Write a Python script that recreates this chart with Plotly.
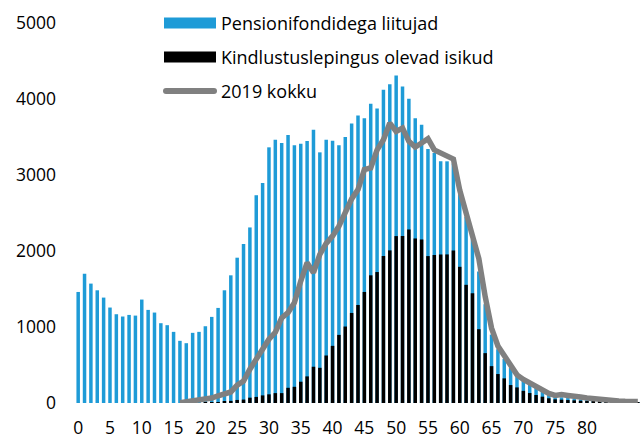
import plotly.graph_objects as go

ages = list(range(0, 89))

pension = [
    1461, 1702, 1571, 1483, 1387, 1256, 1168, 1138, 1159, 1150,
    1361, 1225, 1190, 1050, 1024, 936, 818, 787, 923, 936,
    1010, 1133, 1251, 1483, 1680, 1912, 2091, 2310, 2734, 2896,
    3364, 3465, 3421, 3526, 3390, 3412, 3447, 3596, 3298, 3465,
    3451, 3390, 3500, 3678, 3783, 3748, 3937, 3875, 4121, 4195,
    4308, 4164, 4003, 3748, 3661, 3342, 3290, 3180, 3180, 3150,
    2800, 2450, 2150, 1730, 1300, 900, 708, 580, 460, 390,
    305, 255, 205, 155, 115, 92, 75, 65, 57, 48,
    40, 30, 22, 15, 10, 7, 5, 3, 2,
]

insured = [
    0, 0, 0, 0, 0, 0, 0, 0, 0, 0,
    0, 0, 0, 0, 0, 0, 0, 0, 0, 0,
    5, 8, 12, 25, 28, 40, 45, 70, 80, 100,
    114, 130, 130, 200, 213, 280, 350, 477, 463, 625,
    752, 896, 1006, 1185, 1290, 1461, 1680, 1723, 1933, 2008,
    2196, 2196, 2283, 2165, 2152, 1933, 1947, 1955, 1955, 2008,
    1792, 1555, 1444, 971, 656, 485, 381, 324, 236, 205,
    160, 131, 105, 83, 62, 48, 44, 39, 35, 30,
    26, 20, 15, 10, 7, 5, 3, 2, 1,
]

line_ages = list(range(16, 89))
total_2019 = [
    5, 15, 25, 35, 55, 65, 95, 125, 145, 235,
    290, 445, 580, 730, 840, 930, 1120, 1190, 1320, 1605,
    1846, 1715, 1955, 2100, 2195, 2327, 2524, 2686, 2808, 3071,
    3093, 3330, 3465, 3683, 3573, 3617, 3443, 3369, 3421, 3478,
    3330, 3294, 3264, 3210, 2800, 2510, 2240, 1900, 1400, 985,
    750, 630, 500, 370, 310, 265, 205, 160, 125, 100,
    110, 100, 96, 78, 66, 55, 48, 37, 30, 26,
    22, 20, 20,
]

x_ticks = list(range(0, 81, 5))
y_ticks = [0, 1000, 2000, 3000, 4000, 5000]

names = ["Pensionifondidega liitujad", "Kindlustuslepingus olevad isikud", "2019 kokku"]
BLUE = "#1E9BD7"
BLACK = "#000000"
GREY = "#808080"
FONT = "Open Sans"
FS = 17.5
FS_LEG = 18

fig = go.Figure()
fig.add_trace(go.Bar(x=ages, y=pension, name=names[0], marker=dict(color=BLUE, line=dict(width=0)), width=0.55))
fig.add_trace(go.Bar(x=ages, y=insured, name=names[1], marker=dict(color=BLACK, line=dict(width=0)), width=0.55))
fig.add_trace(go.Scatter(x=line_ages, y=total_2019, name=names[2], mode="lines",
                         line=dict(color=GREY, width=5.5)))

W, H = 642, 437
L, R, T, B = 75, 1, 23, 34
pw = W - L - R
ph = H - T - B


def px(x):
    return (x - L) / pw


def py(y):
    return (H - B - y) / ph


# custom legend
legend_rows = [(23, BLUE, "rect"), (57, BLACK, "rect"), (91, GREY, "line")]
shapes = []
annotations = []
for (yc, col, kind), name in zip(legend_rows, names):
    if kind == "rect":
        shapes.append(dict(type="rect", xref="paper", yref="paper",
                           x0=px(164), x1=px(216), y0=py(yc - 5.5), y1=py(yc + 5.5),
                           fillcolor=col, line=dict(width=0)))
    else:
        shapes.append(dict(type="line", xref="paper", yref="paper",
                           x0=px(166), x1=px(214), y0=py(yc), y1=py(yc),
                           line=dict(color=col, width=6)))
        for xe in (166, 214):
            shapes.append(dict(type="circle", xref="paper", yref="paper",
                               xsizemode="pixel", ysizemode="pixel",
                               xanchor=px(xe), yanchor=py(yc),
                               x0=-3, x1=3, y0=-3, y1=3,
                               fillcolor=col, line=dict(width=0)))
    annotations.append(dict(text=name, xref="paper", yref="paper", x=px(219), y=py(yc),
                            xanchor="left", yanchor="middle", showarrow=False,
                            font=dict(family=FONT, size=FS_LEG, color="#000000")))

fig.update_layout(
    width=W, height=H,
    margin=dict(l=L, r=R, t=T, b=B, autoexpand=False),
    barmode="overlay",
    showlegend=False,
    plot_bgcolor="white", paper_bgcolor="white",
    font=dict(family=FONT, size=FS, color="#000000"),
    shapes=shapes,
    annotations=annotations,
    xaxis=dict(range=[-0.5, 88.5], tickmode="array", tickvals=x_ticks,
               ticktext=[str(v) for v in x_ticks], showgrid=False, zeroline=False,
               showline=False, ticks="", ticklabelstandoff=12, fixedrange=True,
               automargin=False),
    yaxis=dict(range=[0, 5000], tickmode="array", tickvals=y_ticks,
               showgrid=False, zeroline=False, showline=False, ticks="",
               ticklabelstandoff=18, fixedrange=True, automargin=False),
)

fig.write_html("out.html", config={"displayModeBar": False},
               post_script="document.body.style.margin='0';document.body.style.padding='0';")
